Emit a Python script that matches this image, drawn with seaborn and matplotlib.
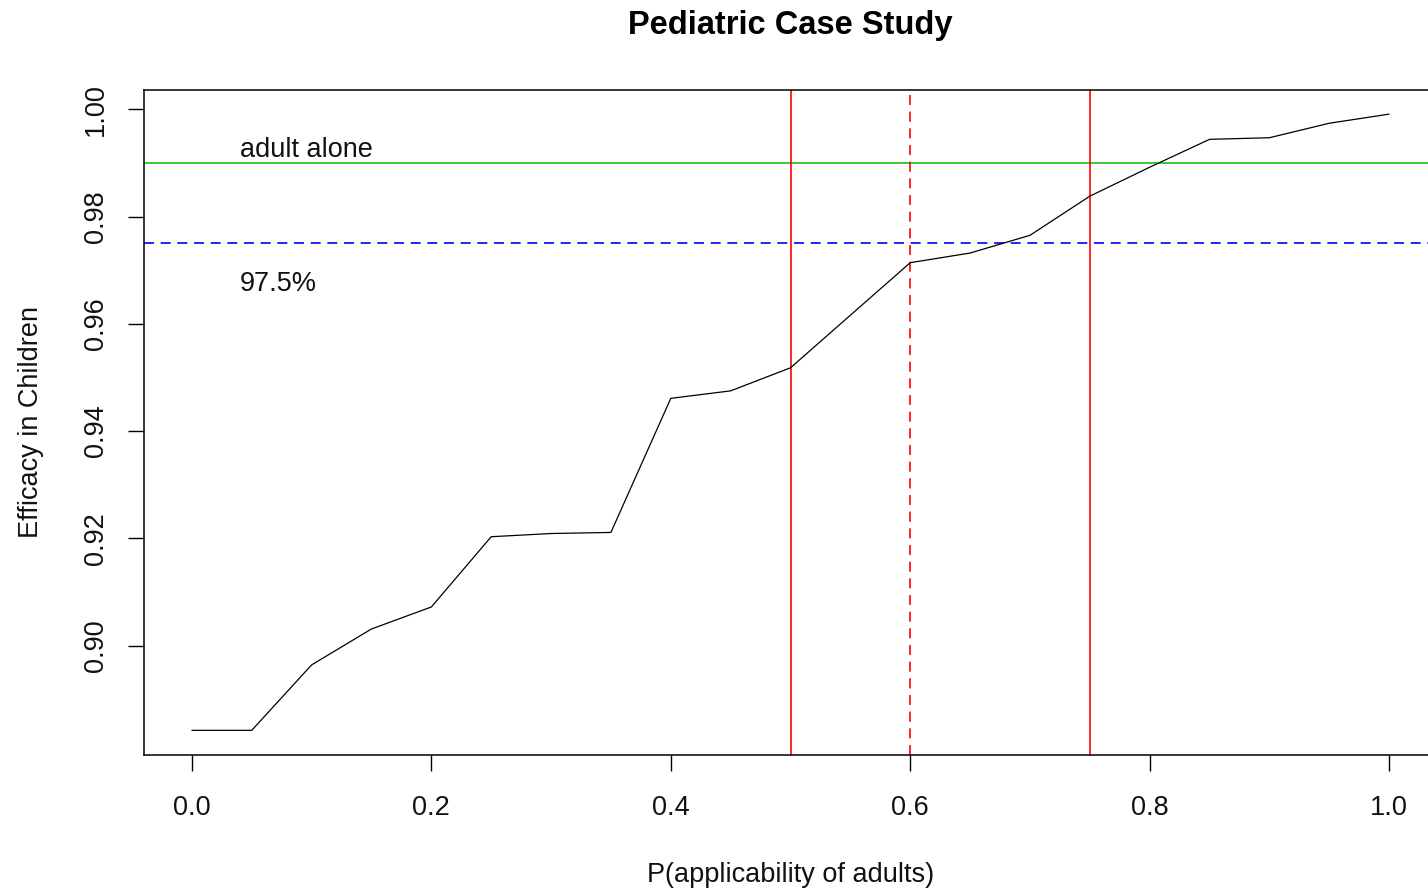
import matplotlib
matplotlib.use("Agg")
import matplotlib.pyplot as plt
import seaborn as sns
import pandas as pd

# ---- data ----
p_adult = [0.00, 0.05, 0.10, 0.15, 0.20, 0.25, 0.30, 0.35, 0.40, 0.45, 0.50,
           0.55, 0.60, 0.65, 0.70, 0.75, 0.80, 0.85, 0.90, 0.95, 1.00]
efficacy = [0.8842, 0.8842, 0.8964, 0.9031, 0.9072, 0.9203, 0.9209, 0.9211,
            0.9461, 0.9475, 0.9518, 0.9616, 0.9714, 0.9732, 0.9765, 0.9838,
            0.9892, 0.9944, 0.9947, 0.9974, 0.9991]
adult_alone = 0.99
threshold = 0.975
vlines_solid = [0.50, 0.75]
vlines_dashed = [0.60]
x_ticks = [0.0, 0.2, 0.4, 0.6, 0.8, 1.0]
x_tick_labels = ["0.0", "0.2", "0.4", "0.6", "0.8", "1.0"]
y_ticks = [0.90, 0.92, 0.94, 0.96, 0.98, 1.00]
y_tick_labels = ["0.90", "0.92", "0.94", "0.96", "0.98", "1.00"]
title = "Pediatric Case Study"
x_label = "P(applicability of adults)"
y_label = "Efficacy in Children"
text_adult = "adult alone"
text_thr = "97.5%"

df = pd.DataFrame({"p": p_adult, "eff": efficacy})

sns.set_theme(style="white")
plt.rcParams["font.family"] = ["Liberation Sans", "DejaVu Sans"]

fig = plt.figure(figsize=(14.28, 8.91), dpi=100)
W, H = 1428, 891
left_px, right_px, top_px, bottom_px = 144, 1437, 90, 755
ax = fig.add_axes([left_px / W, 1 - bottom_px / H,
                   (right_px - left_px) / W, (bottom_px - top_px) / H])

sns.lineplot(data=df, x="p", y="eff", ax=ax, color="black", linewidth=0.9,
             zorder=3)

ax.axhline(adult_alone, color="#33CC33", linewidth=1.4, zorder=2)
ax.axhline(threshold, color="blue", linewidth=1.2, linestyle=(0, (6, 4)), zorder=2)
for v in vlines_solid:
    ax.axvline(v, color="red", linewidth=1.2, zorder=2)
for v in vlines_dashed:
    ax.axvline(v, color="red", linewidth=1.2, linestyle=(0, (6, 4)), zorder=2)

ax.text(0.04, 0.9925, text_adult, ha="left", va="center", fontsize=19.5,
        color="#111111")
ax.text(0.04, 0.9675, text_thr, ha="left", va="center", fontsize=19.5,
        color="#111111")

ax.set_xlim(-0.04, 1.04)
ax.set_ylim(0.8796, 1.0036)
ax.set_xticks(x_ticks)
ax.set_xticklabels(x_tick_labels, fontsize=19.5)
ax.set_yticks(y_ticks)
ax.set_yticklabels(y_tick_labels, fontsize=19.5, rotation=90, va="center")
ax.tick_params(axis="both", which="major", direction="out", length=11.5,
               width=1.0, color="black", labelcolor="#111111",
               bottom=True, left=True, top=False, right=False)
ax.tick_params(axis="x", pad=17)
ax.tick_params(axis="y", pad=14)

for s in ax.spines.values():
    s.set_visible(True)
    s.set_color("black")
    s.set_linewidth(1.1)

ax.set_xlabel(x_label, fontsize=19.5, labelpad=30, color="#111111")
ax.set_ylabel(y_label, fontsize=19.5, labelpad=28, color="#111111")
ax.set_title(title, fontsize=23.5, fontweight="bold", pad=40, color="black")
ax.grid(False)

fig.savefig("out.png", dpi=100)
